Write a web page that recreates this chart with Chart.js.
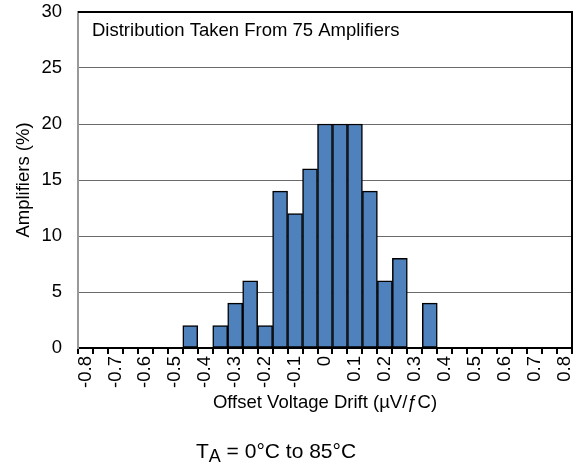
<!DOCTYPE html>
<html>
<head>
<meta charset="utf-8">
<script src="https://cdn.jsdelivr.net/npm/chart.js@4.4.0/dist/chart.umd.min.js"></script>
<style>
  html, body { margin: 0; padding: 0; background: #fff; }
  #wrap { position: relative; width: 582px; height: 470px; }
  #c { position: absolute; left: 0; top: 0; }
  #cond { position: absolute; left: 0; width: 552px; top: 439px; text-align: center; line-height: 24px;
          font-family: 'Liberation Sans', Arial, sans-serif; font-size: 21px; color: #000; white-space: nowrap; }
  #cond sub { font-size: 18px; vertical-align: -4px; line-height: 0; }
</style>
</head>
<body>
<div id="wrap">
  <canvas id="c" width="582" height="470"></canvas>
  <div id="cond">T<sub>A</sub> = 0°C to 85°C</div>
</div>
<script>
const categories = ['-0.8','-0.75','-0.7','-0.65','-0.6','-0.55','-0.5','-0.45','-0.4','-0.35','-0.3','-0.25','-0.2','-0.15','-0.1','-0.05','0','0.05','0.1','0.15','0.2','0.25','0.3','0.35','0.4','0.45','0.5','0.55','0.6','0.65','0.7','0.75','0.8'];
const amplifiersPct = [0,0,0,0,0,0,0,2,0,2,4,6,2,14,12,16,20,20,20,14,6,8,0,4,0,0,0,0,0,0,0,0,0];
const xTickLabels = ['-0.8','-0.7','-0.6','-0.5','-0.4','-0.3','-0.2','-0.1','0','0.1','0.2','0.3','0.4','0.5','0.6','0.7','0.8'];
const yTicks = [0,5,10,15,20,25,30];
const noteText = 'Distribution Taken From 75 Amplifiers';

const FONT = "'Liberation Sans', Arial, sans-serif";
const FS = 18.5;

const framePlugin = {
  id: 'frame',
  afterDraw(chart) {
    const {ctx, chartArea: a} = chart;
    ctx.save();
    ctx.strokeStyle = '#000';
    ctx.lineWidth = 2;
    ctx.beginPath();
    ctx.moveTo(a.left, a.top);
    ctx.lineTo(a.right, a.top);
    ctx.lineTo(a.right, a.bottom);
    ctx.stroke();
    ctx.fillStyle = '#000';
    ctx.font = FS + 'px ' + FONT;
    ctx.textBaseline = 'middle';
    ctx.textAlign = 'left';
    ctx.fillText(noteText, a.left + 14, a.top + 19);
    ctx.restore();
  }
};

new Chart(document.getElementById('c'), {
  type: 'bar',
  data: {
    labels: categories,
    datasets: [{
      data: amplifiersPct,
      backgroundColor: '#4f81bd',
      borderColor: '#000',
      borderWidth: 1.5,
      borderSkipped: false,
      barPercentage: 1,
      categoryPercentage: 1
    }]
  },
  options: {
    responsive: false,
    animation: false,
    devicePixelRatio: 1,
    layout: { padding: { left: 0, right: 10, top: 12, bottom: 0 } },
    plugins: { legend: { display: false }, tooltip: { enabled: false } },
    scales: {
      x: {
        offset: true,
        afterFit(axis) { axis.height = 122; axis.paddingLeft = 0; axis.paddingRight = 0; },
        grid: { offset: true, drawOnChartArea: false, drawTicks: true, tickLength: 6, color: '#000', lineWidth: 2 },
        border: { display: true, color: '#000', width: 2 },
        ticks: {
          autoSkip: false, minRotation: 90, maxRotation: 90, padding: 2,
          color: '#000', font: { family: FONT, size: FS },
          callback: function(v, i) {
            const l = categories[i];
            return xTickLabels.includes(l) ? l : '';
          }
        },
        title: { display: true, text: 'Offset Voltage Drift (µV/ƒC)', color: '#000',
                 font: { family: FONT, size: FS }, padding: { top: 0, bottom: 56 } }
      },
      y: {
        min: 0, max: 30,
        afterFit(axis) { axis.width = 78; axis.paddingTop = 0; axis.paddingBottom = 0; },
        afterBuildTicks(axis) { axis.ticks = yTicks.map(v => ({ value: v })); },
        grid: { drawTicks: true, tickLength: 16, tickColor: 'rgba(0,0,0,0)', color: '#6a6a6a', lineWidth: 1 },
        border: { display: true, color: '#999', width: 2 },
        ticks: { padding: 0, color: '#000', font: { family: FONT, size: FS } },
        title: { display: true, text: 'Amplifiers (%)', color: '#000',
                 font: { family: FONT, size: FS }, padding: { top: 13, bottom: 0 } }
      }
    }
  },
  plugins: [framePlugin]
});
</script>
</body>
</html>
